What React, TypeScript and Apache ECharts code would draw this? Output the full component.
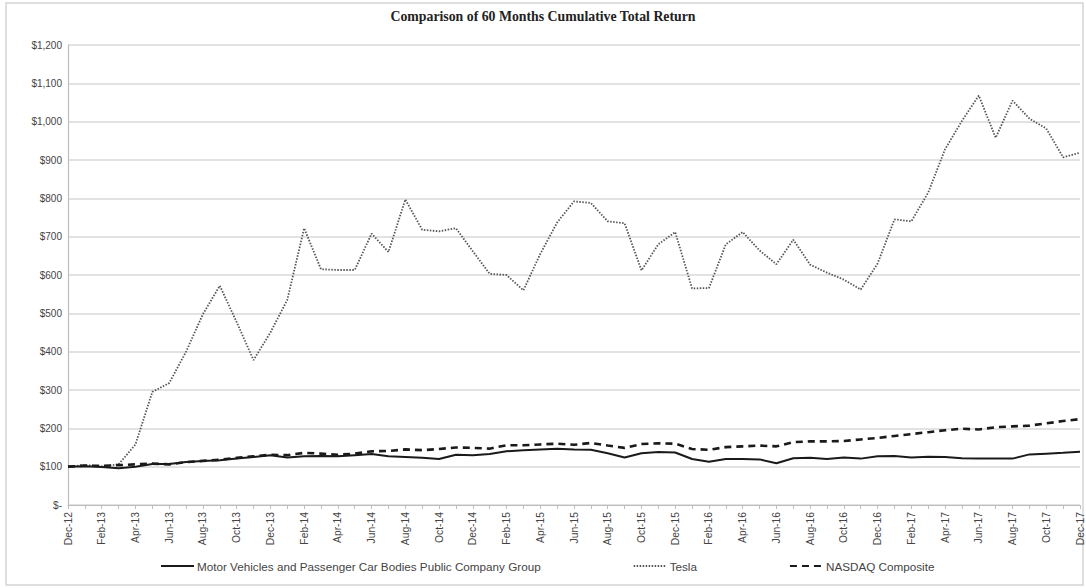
import React, { useEffect, useRef } from "react";
import * as echarts from "echarts";

const months = [
  "Dec-12","Jan-13","Feb-13","Mar-13","Apr-13","May-13","Jun-13","Jul-13","Aug-13","Sep-13","Oct-13","Nov-13",
  "Dec-13","Jan-14","Feb-14","Mar-14","Apr-14","May-14","Jun-14","Jul-14","Aug-14","Sep-14","Oct-14","Nov-14",
  "Dec-14","Jan-15","Feb-15","Mar-15","Apr-15","May-15","Jun-15","Jul-15","Aug-15","Sep-15","Oct-15","Nov-15",
  "Dec-15","Jan-16","Feb-16","Mar-16","Apr-16","May-16","Jun-16","Jul-16","Aug-16","Sep-16","Oct-16","Nov-16",
  "Dec-16","Jan-17","Feb-17","Mar-17","Apr-17","May-17","Jun-17","Jul-17","Aug-17","Sep-17","Oct-17","Nov-17",
  "Dec-17",
];

const motorVehicles = [
  100, 101, 99, 96, 100, 107, 107, 112, 115, 117, 121, 125,
  130, 124, 127, 128, 127, 130, 133, 127, 125, 123, 120, 131,
  130, 133, 140, 143, 145, 147, 145, 144, 135, 124, 135, 138,
  137, 120, 113, 120, 120, 119, 109, 122, 123, 120, 124, 121,
  127, 128, 124, 126, 125, 122, 121, 121, 121, 132, 134, 136,
  139,
];

const tesla = [
  100, 104, 101, 106, 158, 295, 318, 400, 498, 572, 477, 378,
  450, 535, 722, 615, 613, 613, 708, 660, 797, 718, 714, 722,
  662, 603, 600, 560, 655, 737, 792, 788, 740, 735, 612, 680,
  712, 565, 566, 680, 712, 664, 628, 692, 627, 606, 588, 562,
  630, 745, 740, 815, 928, 1002, 1068, 958, 1055, 1008, 982, 907,
  919,
];

const nasdaq = [
  100, 103, 102, 104, 106, 108, 106, 112, 115, 118, 123, 127,
  131, 130, 136, 134, 131, 134, 140, 141, 145, 143, 146, 150,
  149, 147, 156, 156, 158, 160, 157, 162, 155, 149, 159, 161,
  160, 146, 144, 151, 153, 155, 153, 164, 166, 166, 167, 171,
  175, 180, 185, 190, 195, 199, 197, 203, 205, 207, 213, 219,
  224,
];

const seriesNames = [
  "Motor Vehicles and Passenger Car Bodies Public Company Group",
  "Tesla",
  "NASDAQ Composite",
];

const titleText = "Comparison of 60 Months Cumulative Total Return";

function fmtDollar(v: number): string {
  if (v === 0) return "$-";
  return "$" + v.toLocaleString("en-US");
}

export default function App() {
  const ref = useRef<HTMLDivElement>(null);
  useEffect(() => {
    if (!ref.current) return;
    const chart = echarts.init(ref.current, null, { renderer: "svg" });
    const font = "'Liberation Sans', Arial, sans-serif";
    chart.setOption({
      animation: false,
      backgroundColor: "#ffffff",
      title: {
        text: titleText,
        left: "center",
        top: 9,
        padding: 0,
        textStyle: {
          fontFamily: "'Liberation Serif', 'Times New Roman', serif",
          fontWeight: "bold",
          fontSize: 13.8,
          color: "#222",
        },
      },
      graphic: [
        {
          type: "rect",
          shape: { x: 6, y: 3, width: 1077, height: 582 },
          style: { fill: "none", stroke: "#d4d4d4", lineWidth: 1.5 },
          silent: true,
        },
      ],
      grid: { left: 68, right: 6, top: 45, bottom: 83 },
      legend: {
        data: seriesNames,
        left: 160,
        top: 560,
        padding: 0,
        itemWidth: 33,
        itemHeight: 1,
        itemGap: 92,
        textStyle: { fontFamily: font, fontSize: 11.7, color: "#444", padding: [0, 0, 0, -2] },
      },
      xAxis: {
        type: "category",
        data: months,
        boundaryGap: false,
        axisLine: { show: true, lineStyle: { color: "#bdbdbd", width: 1.2 } },
        axisTick: { show: true, interval: 0, length: 4, lineStyle: { color: "#bdbdbd" } },
        axisLabel: {
          interval: 1,
          rotate: 90,
          fontFamily: font,
          fontSize: 10.3,
          color: "#444",
          margin: 7,
        },
        splitLine: { show: false },
      },
      yAxis: {
        type: "value",
        min: 0,
        max: 1200,
        interval: 100,
        axisLine: { show: true, lineStyle: { color: "#bdbdbd", width: 1.2 } },
        axisTick: { show: false },
        axisLabel: {
          formatter: fmtDollar,
          fontFamily: font,
          fontSize: 10,
          color: "#444",
          margin: 6,
        },
        splitLine: { show: true, lineStyle: { color: "#d9d9d9", width: 1.5 } },
      },
      series: [
        {
          name: seriesNames[0],
          type: "line",
          data: motorVehicles,
          symbol: "none",
          smooth: false,
          lineStyle: { color: "#1a1a1a", width: 2, type: "solid" },
          itemStyle: { color: "#1a1a1a" },
          z: 3,
        },
        {
          name: seriesNames[1],
          type: "line",
          data: tesla,
          symbol: "none",
          lineStyle: { color: "#555555", width: 1.8, type: [1.5, 1.5] },
          itemStyle: { color: "#555555" },
          z: 2,
        },
        {
          name: seriesNames[2],
          type: "line",
          data: nasdaq,
          symbol: "none",
          lineStyle: { color: "#1a1a1a", width: 2.6, type: [7, 5] },
          itemStyle: { color: "#1a1a1a" },
          z: 4,
        },
      ],
    });
    return () => chart.dispose();
  }, []);
  return (
    <div
      ref={ref}
      style={{ position: "absolute", left: 0, top: 0, width: 1086, height: 588 }}
    />
  );
}
